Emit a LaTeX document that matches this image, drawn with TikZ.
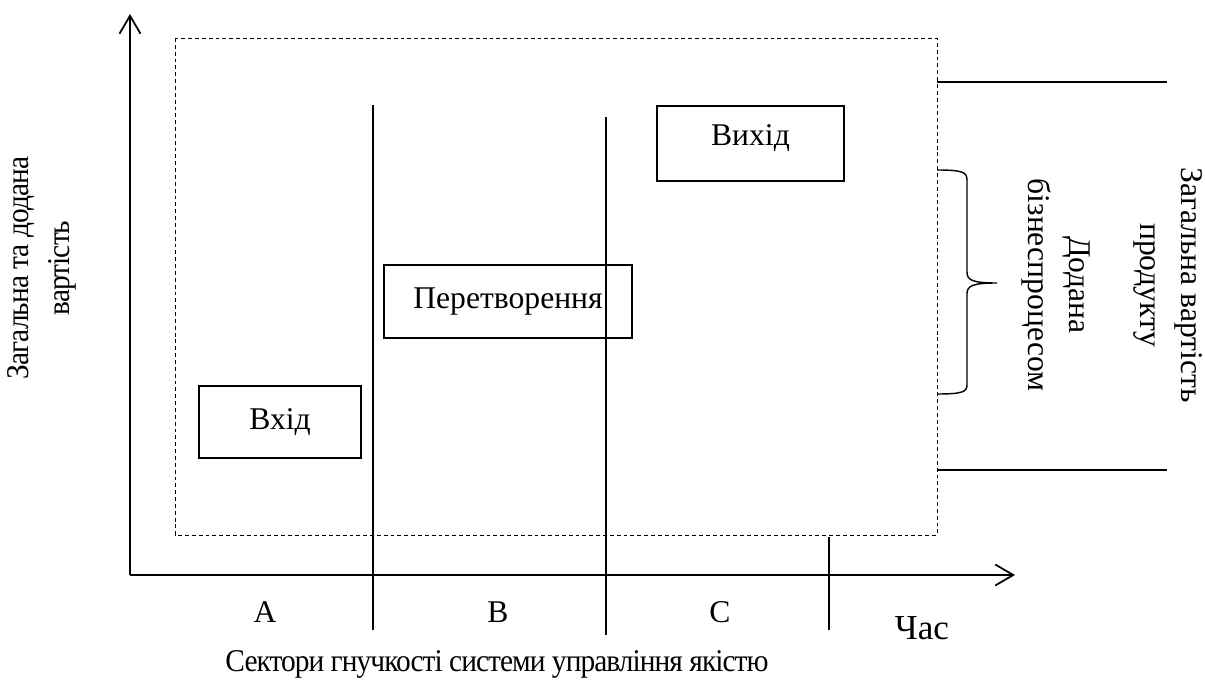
\documentclass[tikz,border=0pt]{standalone}
\usepackage{fontspec}
\setmainfont{Liberation Serif}
\newfontfamily\tightfont[FakeStretch=0.93,LetterSpace=-3]{Liberation Serif}
\usetikzlibrary{arrows.meta}
\tikzset{
  axis/.style={line width=1.2pt,-{Straight Barb[length=0.36cm,width=0.42cm,line width=1pt]}},
  stagebox/.style={draw,line width=0.7pt,inner sep=0pt},
  lbl/.style={font=\fontsize{18}{23}\selectfont,align=center},
  tightlbl/.style={font=\fontsize{18}{23}\selectfont\tightfont,align=center}
}
\begin{document}
\begin{tikzpicture}[x=0.02cm,y=-0.02cm]
\useasboundingbox (0,0) rectangle (1205,682);
% axes
\coordinate (O) at (130,575);
\coordinate (ytop) at (130,14);
\coordinate (xend) at (1015,575);
\draw[axis] (O) -- (ytop);
\draw[axis] (O) -- (xend);
% dashed frame
\draw[dashed,dash pattern=on 2.2pt off 1.7pt,line width=0.5pt] (175,38) rectangle (937,535);
% sector borders
\draw[line width=0.7pt] (373,105) -- (373,630);
\draw[line width=0.7pt] (606,117) -- (606,635);
\draw[line width=0.7pt] (829,537) -- (829,630);
% stages
\node[stagebox,lbl,minimum width=3.24cm,minimum height=1.44cm] (input) at (280,422) {Вхід};
\node[stagebox,lbl,minimum width=4.96cm,minimum height=1.46cm] (process) at (508,301.5) {Перетворення};
\node[stagebox,lbl,minimum width=3.74cm,minimum height=1.5cm,text depth=0.35cm] (output) at (750.5,143.5) {Вихід};
% value bounds
\draw[line width=0.9pt] (937,82) -- (1167,82);
\draw[line width=0.9pt] (937,470) -- (1167,470);
% brace
\draw[line width=0.8pt] (937,170) .. controls (962,170) and (967,172) .. (967,180) -- (967,272)
  .. controls (967,280) and (972,283) .. (997,283)
  .. controls (972,283) and (967,286) .. (967,294) -- (967,385)
  .. controls (967,392) and (962,394) .. (937,394);
% labels
\node[lbl,rotate=-90] (added) at (1056,285) {Додана\\бізнеспроцесом};
\node[lbl,rotate=-90] (total) at (1168,285) {Загальна вартість\\продукту};
\node[tightlbl,rotate=90] (yname) at (42,268) {Загальна та додана\\вартість};
\foreach \x/\s in {265/A,498/B,720/C}
  \node[lbl] (sec\s) at (\x,612) {\s};
\node[lbl,font=\fontsize{20}{24}\selectfont] (time) at (922,628) {Час};
\node[tightlbl] (xname) at (497,664) {Сектори гнучкості системи управління якістю};
\end{tikzpicture}
\end{document}
